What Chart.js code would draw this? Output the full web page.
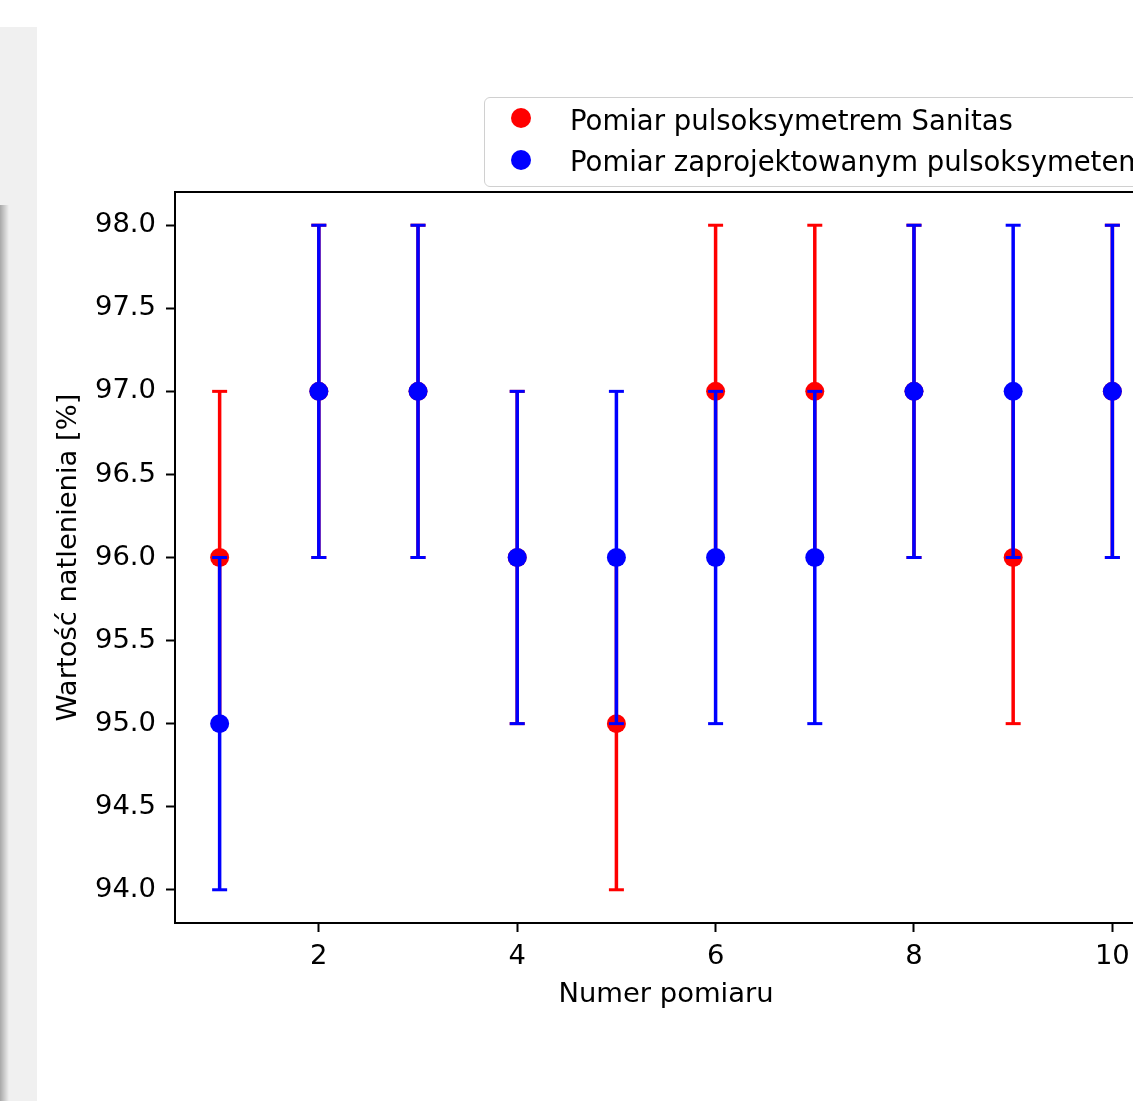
<!DOCTYPE html>
<html lang="pl">
<head>
<meta charset="UTF-8">
<title>Wartość natlenienia</title>
<script src="https://cdn.jsdelivr.net/npm/chart.js@4/dist/chart.umd.min.js"></script>
<style>
  html, body { margin: 0; padding: 0; width: 1133px; height: 1101px; overflow: hidden; background: #fff; font-family: 'DejaVu Sans', sans-serif; }
  .strip { position: absolute; left: 0; top: 27px; width: 37px; height: 1074px; background: #f0f0f0; }
  .shadow { position: absolute; left: 0; top: 205px; width: 9px; height: 896px; background: linear-gradient(to right, #a8a8a8, #f0f0f0); }
  .wrap { position: absolute; left: 0; top: 0; width: 1200px; height: 1101px; }
  .legend { position: absolute; left: 484px; top: 97px; width: 720px; height: 88px; border: 1.5px solid #d0d0d0; border-radius: 6px; background: rgba(255,255,255,.8); }
  .legend .dot { position: absolute; left: 26px; width: 20px; height: 20px; border-radius: 50%; }
  .legend .txt { position: absolute; left: 85px; height: 36px; line-height: 36px; font-size: 27.5px; color: #000; white-space: nowrap; }
</style>
</head>
<body>
<div class="strip"></div>
<div class="shadow"></div>
<div class="wrap"><canvas id="chart" width="1200" height="1101"></canvas></div>
<div class="legend" id="legend"></div>
<script>
const xValues = [1, 2, 3, 4, 5, 6, 7, 8, 9, 10];
const sanitasValues = [96, 97, 97, 96, 95, 97, 97, 97, 96, 97];
const sanitasErrors = [1, 1, 1, 1, 1, 1, 1, 1, 1, 1];
const designedValues = [95, 97, 97, 96, 96, 96, 96, 97, 97, 97];
const designedErrors = [1, 1, 1, 1, 1, 1, 1, 1, 1, 1];
const xTicks = [2, 4, 6, 8, 10];
const yTicks = [94.0, 94.5, 95.0, 95.5, 96.0, 96.5, 97.0, 97.5, 98.0];
const seriesLabels = ['Pomiar pulsoksymetrem Sanitas', 'Pomiar zaprojektowanym pulsoksymetem'];
const seriesColors = ['#ff0000', '#0000ff'];

const FONT = { family: "'DejaVu Sans', sans-serif", size: 27.4 };

// vertical error bars: pairs of points split by a null gap
function errorSegments(values, errors) {
  const pts = [];
  values.forEach((v, i) => {
    pts.push({ x: xValues[i], y: v - errors[i] });
    pts.push({ x: xValues[i], y: v + errors[i] });
    pts.push({ x: xValues[i], y: null });
  });
  return pts;
}

function errorDataset(values, errors, color, order) {
  return {
    type: 'line',
    data: errorSegments(values, errors),
    borderColor: color,
    borderWidth: 3.5,
    pointStyle: 'line',
    pointRadius: 7.5,
    pointBorderWidth: 3,
    pointBorderColor: color,
    pointBackgroundColor: color,
    spanGaps: false,
    fill: false,
    order: order
  };
}

function pointDataset(values, color, label, order) {
  return {
    type: 'scatter',
    label: label,
    data: values.map((v, i) => ({ x: xValues[i], y: v })),
    pointStyle: 'circle',
    pointRadius: 9.5,
    backgroundColor: color,
    borderWidth: 0,
    order: order
  };
}

const frame = {
  id: 'frame',
  afterDatasetsDraw(chart) {
    const { ctx, chartArea: a } = chart;
    ctx.save();
    ctx.strokeStyle = '#000';
    ctx.lineWidth = 2;
    ctx.strokeRect(a.left, a.top, a.right - a.left, a.bottom - a.top);
    ctx.restore();
  }
};

new Chart(document.getElementById('chart'), {
  type: 'scatter',
  data: {
    datasets: [
      errorDataset(sanitasValues, sanitasErrors, seriesColors[0], 4),
      pointDataset(sanitasValues, seriesColors[0], seriesLabels[0], 3),
      errorDataset(designedValues, designedErrors, seriesColors[1], 2),
      pointDataset(designedValues, seriesColors[1], seriesLabels[1], 1)
    ]
  },
  options: {
    responsive: false,
    animation: false,
    devicePixelRatio: 1,
    events: [],
    layout: { padding: { left: 0, top: 192, right: 43, bottom: 0 } },
    plugins: { legend: { display: false }, tooltip: { enabled: false } },
    scales: {
      x: {
        type: 'linear',
        min: 0.55,
        max: 10.45,
        afterBuildTicks: (s) => { s.ticks = xTicks.map((v) => ({ value: v })); },
        afterFit: (s) => { s.height = 178; },
        ticks: { font: FONT, color: '#000', padding: 8, maxRotation: 0 },
        grid: { drawOnChartArea: false, drawTicks: true, tickLength: 9, tickWidth: 2, tickColor: '#000' },
        border: { display: false },
        title: { display: true, text: 'Numer pomiaru', font: FONT, color: '#000', padding: { top: 0, bottom: 90 } }
      },
      y: {
        type: 'linear',
        min: 93.8,
        max: 98.2,
        afterBuildTicks: (s) => { s.ticks = yTicks.map((v) => ({ value: v })); },
        afterFit: (s) => { s.width = 175; },
        ticks: { font: FONT, color: '#000', padding: 10, callback: (v) => Number(v).toFixed(1) },
        grid: { drawOnChartArea: false, drawTicks: true, tickLength: 9, tickWidth: 2, tickColor: '#000' },
        border: { display: false },
        title: { display: true, text: 'Wartość natlenienia [%]', font: FONT, color: '#000', padding: { top: 52, bottom: 0 } }
      }
    }
  },
  plugins: [frame]
});

// legend built from the series names and colours
const legend = document.getElementById('legend');
const dotTops = [10, 51.5];
const txtTops = [4, 44.5];
seriesLabels.forEach((label, i) => {
  const dot = document.createElement('div');
  dot.className = 'dot';
  dot.style.top = dotTops[i] + 'px';
  dot.style.background = seriesColors[i];
  legend.appendChild(dot);
  const txt = document.createElement('div');
  txt.className = 'txt';
  txt.style.top = txtTops[i] + 'px';
  txt.textContent = label;
  legend.appendChild(txt);
});
</script>
</body>
</html>
